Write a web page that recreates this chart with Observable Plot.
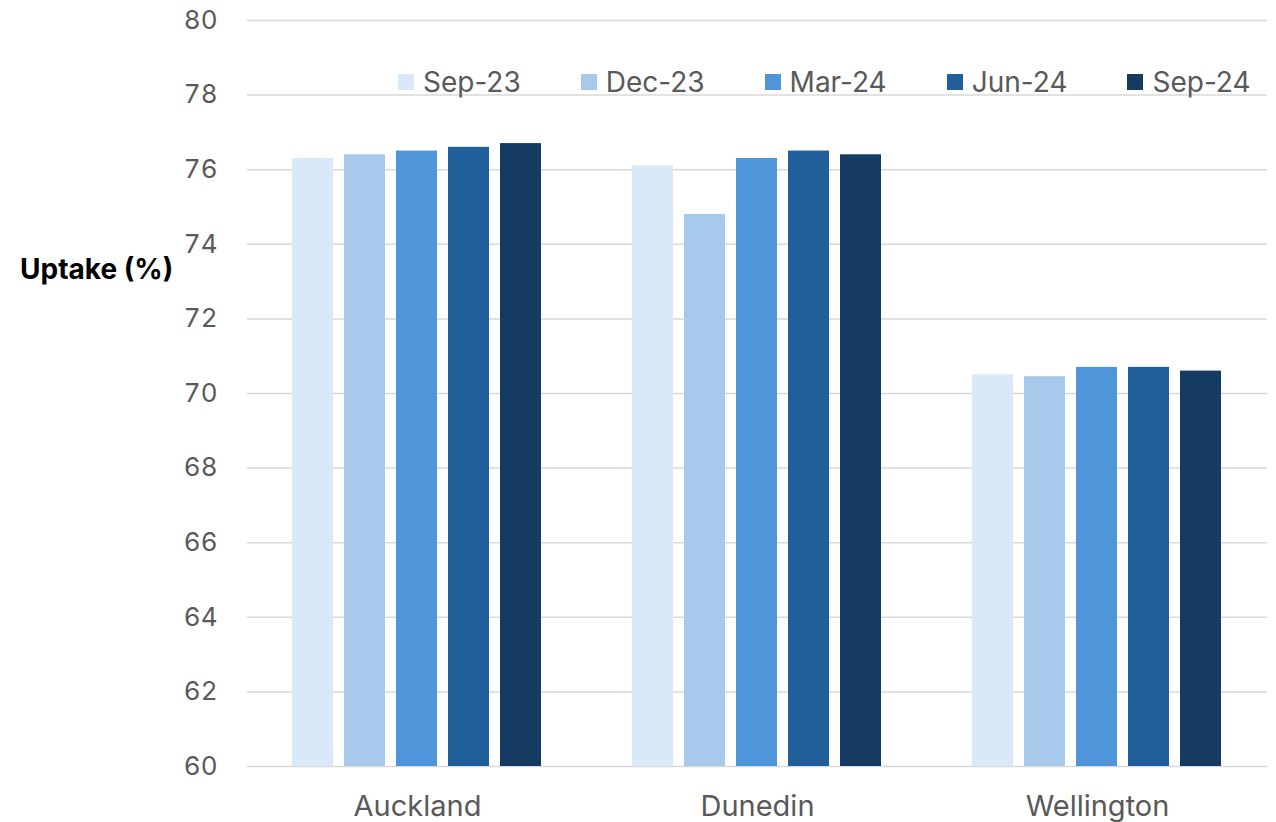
<!DOCTYPE html>
<html>
<head>
<meta charset="utf-8">
<script src="https://cdn.jsdelivr.net/npm/d3@7"></script>
<script src="https://cdn.jsdelivr.net/npm/@observablehq/plot@0.6"></script>
<style>
  html, body { margin: 0; padding: 0; background: #fff; }
  #wrap { position: relative; width: 1276px; height: 822px; font-family: Inter, "Open Sans", sans-serif; }
  #ytitle { position: absolute; left: 20px; top: 252px; font-size: 28px; font-weight: bold; color: #000; white-space: nowrap; }
  #legend { position: absolute; left: 398px; top: 65px; display: flex; gap: 60px; align-items: center; font-size: 28px; color: #595959; }
  .item { display: flex; align-items: center; gap: 9px; }
  .sw { width: 16px; height: 16px; display: inline-block; }
</style>
</head>
<body>
<div id="wrap"></div>
<script>
const cities = ["Auckland", "Dunedin", "Wellington"];
const periods = ["Sep-23", "Dec-23", "Mar-24", "Jun-24", "Sep-24"];
const auckland = [76.3, 76.4, 76.5, 76.6, 76.7];
const dunedin = [76.1, 74.8, 76.3, 76.5, 76.4];
const wellington = [70.5, 70.45, 70.7, 70.7, 70.6];
const colors = ["#dae9f8", "#a6c9ec", "#4e95d9", "#215f9a", "#163b62"];
const yTicks = [60, 62, 64, 66, 68, 70, 72, 74, 76, 78, 80];
const yTitle = "Uptake (%)";

const series = [auckland, dunedin, wellington];
const data = [];
cities.forEach((c, i) => periods.forEach((p, j) => data.push({city: c, period: p, value: series[i][j]})));

const chart = Plot.plot({
  width: 1276,
  height: 822,
  marginLeft: 247,
  marginRight: 9,
  marginTop: 20,
  marginBottom: 56,
  style: {fontFamily: "Inter, 'Open Sans', sans-serif", fontSize: "26px", color: "#595959", background: "#fff", overflow: "visible"},
  fx: {domain: cities, padding: 0, label: null},
  x: {domain: periods, paddingInner: 0.21, paddingOuter: 0.85, axis: null},
  y: {domain: [60, 80], ticks: yTicks, tickSize: 0, tickPadding: 30, label: null},
  color: {domain: periods, range: colors},
  marks: [
    Plot.ruleY(yTicks, {stroke: "#d9d9d9", strokeWidth: 1.5}),
    Plot.barY(data, {fx: "city", x: "period", y1: 60, y2: "value", fill: "period"}),
    Plot.axisFx({anchor: "bottom", tickSize: 0, tickPadding: 29, fontSize: 29, label: null})
  ]
});

const wrap = document.getElementById("wrap");
wrap.appendChild(chart);

const t = document.createElement("div");
t.id = "ytitle";
t.textContent = yTitle;
wrap.appendChild(t);

const leg = document.createElement("div");
leg.id = "legend";
periods.forEach((p, i) => {
  const it = document.createElement("div");
  it.className = "item";
  const sw = document.createElement("span");
  sw.className = "sw";
  sw.style.background = colors[i];
  const lb = document.createElement("span");
  lb.textContent = p;
  it.appendChild(sw);
  it.appendChild(lb);
  leg.appendChild(it);
});
wrap.appendChild(leg);
</script>
</body>
</html>
